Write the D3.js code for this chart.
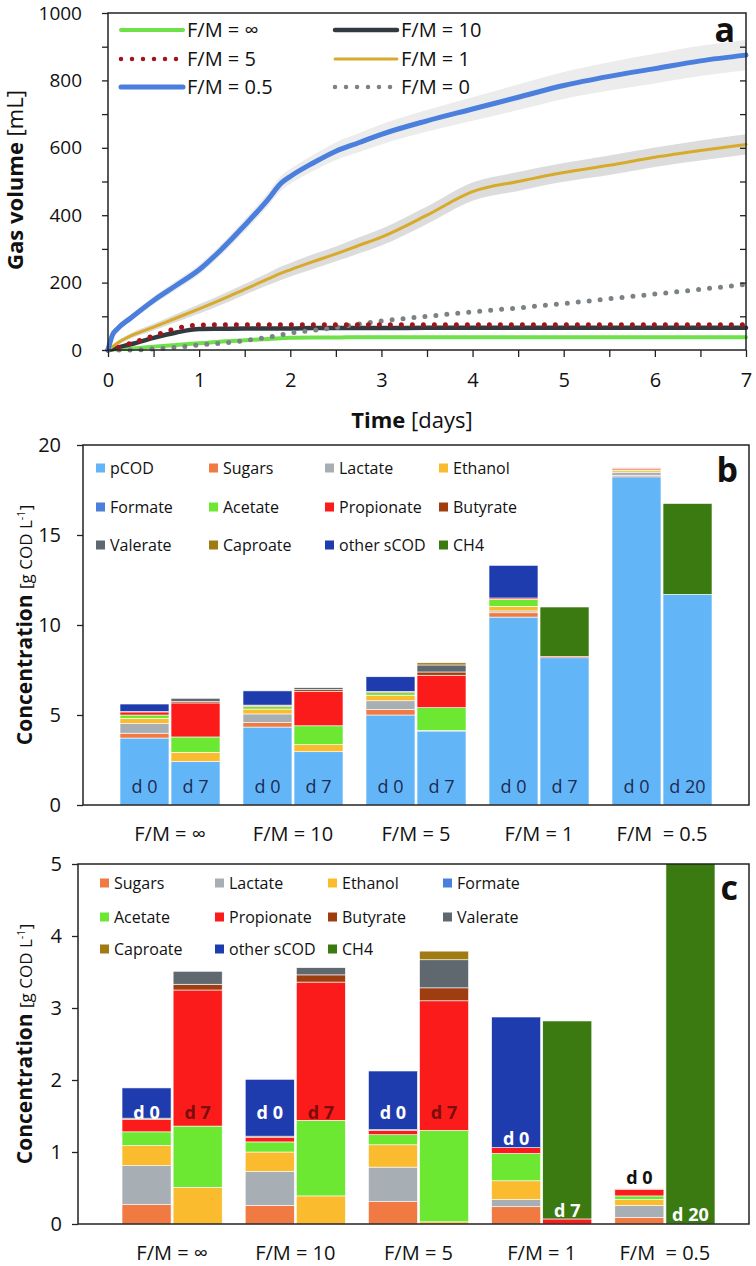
<!DOCTYPE html>
<html>
<head>
<meta charset="utf-8">
<script src="https://cdn.jsdelivr.net/npm/d3@7"></script>
<style>
  body { margin: 0; background: #fff; }
  text { font-family: "Open Sans", sans-serif; fill: #111; }
</style>
</head>
<body>
<div id="chart"></div>
<script>
// ---------- panel a data (gas volume, mL) ----------
const days = [0, 0.05, 0.1, 0.25, 0.5, 0.75, 1, 1.25, 1.5, 1.75, 1.9, 2, 2.25, 2.5, 2.75, 3, 3.5, 4, 4.5, 5, 5.5, 6, 6.5, 7];
const gasInf = [0, 1, 2, 4, 10, 15, 20, 25, 29, 33, 35, 36, 37, 37, 38, 38, 38, 38, 38, 38, 38, 38, 38, 38];
const gas10 = [0, 3, 7, 17, 36, 52, 62, 63, 64, 64, 64, 64, 65, 65, 65, 65, 66, 66, 66, 66, 66, 66, 66, 66];
const gas5 = [0, 3, 7, 20, 42, 64, 74, 75, 75, 75, 75, 75, 75, 75, 75, 75, 75, 75, 75, 75, 75, 75, 75, 75];
const gas1 = [0, 10, 20, 42, 68, 95, 122, 150, 180, 210, 228, 238, 262, 285, 310, 335, 400, 470, 500, 527, 548, 572, 592, 610];
const gas05 = [0, 45, 62, 95, 147, 192, 238, 300, 370, 445, 495, 515, 555, 590, 615, 640, 680, 715, 750, 785, 812, 835, 858, 875];
const gas0 = [0, 0, 0, 0, 3, 8, 15, 20, 28, 38, 45, 50, 58, 67, 77, 86, 100, 113, 125, 138, 152, 166, 180, 195];
// half width of the grey error bands
const spread05 = [0, 5, 8, 10, 12, 14, 15, 16, 18, 20, 22, 22, 24, 26, 28, 30, 32, 35, 38, 40, 42, 44, 45, 45];
const spread1 = [0, 4, 6, 8, 10, 12, 14, 15, 16, 18, 20, 20, 22, 22, 24, 25, 26, 27, 28, 28, 29, 29, 30, 30];

const gasSeries = [
  { name: "F/M = ∞", values: gasInf, color: "#6ee04a", width: 4, dotted: false },
  { name: "F/M = 10", values: gas10, color: "#333a3f", width: 4.5, dotted: false },
  { name: "F/M = 5", values: gas5, color: "#a3141a", width: 5, dotted: true },
  { name: "F/M = 1", values: gas1, color: "#d8aa2c", width: 3, dotted: false },
  { name: "F/M = 0.5", values: gas05, color: "#4a7fde", width: 5, dotted: false },
  { name: "F/M = 0", values: gas0, color: "#7b8286", width: 5, dotted: true }
];

// ---------- panels b and c data (g COD/L) ----------
const groups = ["F/M = ∞", "F/M = 10", "F/M = 5", "F/M = 1", "F/M  = 0.5"];
const dayLabels = ["d 0", "d 7", "d 0", "d 7", "d 0", "d 7", "d 0", "d 7", "d 0", "d 20"];
const components = ["pCOD", "Sugars", "Lactate", "Ethanol", "Formate", "Acetate", "Propionate", "Butyrate", "Valerate", "Caproate", "other sCOD", "CH4"];
const compColors = ["#62b6f8", "#f07a42", "#a7afb5", "#fbbb2e", "#4a80dc", "#6ce832", "#fb1b1b", "#9e3e10", "#5e686e", "#9f7b12", "#1f3caf", "#3b7a10"];

// one value per bar: ∞ d0, ∞ d7, 10 d0, 10 d7, 5 d0, 5 d7, 1 d0, 1 d7, 0.5 d0, 0.5 d20
const pCOD = [3.72, 2.42, 4.33, 2.96, 5.00, 4.11, 10.44, 8.18, 18.23, 11.70];
const sugars = [0.27, 0, 0.26, 0, 0.31, 0, 0.24, 0, 0.09, 0];
const lactate = [0.54, 0, 0.47, 0, 0.48, 0, 0.10, 0, 0.17, 0];
const ethanol = [0.28, 0.51, 0.27, 0.39, 0.31, 0.03, 0.26, 0, 0.08, 0];
const formate = [0, 0, 0, 0, 0, 0, 0, 0, 0, 0];
const acetate = [0.19, 0.85, 0.14, 1.05, 0.14, 1.27, 0.38, 0, 0.05, 0];
const propionate = [0.17, 1.89, 0.06, 1.92, 0.06, 1.80, 0.08, 0.07, 0.09, 0];
const butyrate = [0.02, 0.08, 0.02, 0.10, 0.01, 0.18, 0, 0, 0.01, 0];
const valerate = [0, 0.18, 0, 0.10, 0, 0.39, 0, 0, 0, 0];
const caproate = [0, 0, 0, 0, 0, 0.12, 0, 0, 0.01, 0];
const otherSCOD = [0.42, 0, 0.79, 0, 0.815, 0, 1.815, 0, 0, 0];
const ch4 = [0, 0, 0, 0, 0, 0, 0, 2.75, 0, 5.05];

// label heights in panel c (g COD/L) and their colours
const labelPosC = [1.55, 1.55, 1.55, 1.55, 1.55, 1.55, 1.19, 0.18, 0.64, 0.13];
const labelColC = ["#fff", "#7d0c0c", "#fff", "#7d0c0c", "#fff", "#7d0c0c", "#fff", "#fff", "#111", "#fff"];

const compValues = [pCOD, sugars, lactate, ethanol, formate, acetate, propionate, butyrate, valerate, caproate, otherSCOD, ch4];
const rows = dayLabels.map((lab, i) => {
  const r = { group: groups[Math.floor(i / 2)], day: i % 2, label: lab, idx: i };
  components.forEach((c, k) => r[c] = compValues[k][i]);
  return r;
});

const width = 756, height = 1266;
const svg = d3.select("#chart").append("svg")
  .attr("width", width).attr("height", height)
  .attr("viewBox", [0, 0, width, height]);

function styleAxis(g) {
  g.select(".domain").remove();
  g.selectAll(".tick line").attr("stroke", "#222").attr("stroke-width", 1.3);
  g.selectAll(".tick text").attr("font-size", 20).attr("fill", "#111");
}

// ================= Panel a =================
const xA = d3.scaleLinear().domain([0, 7]).range([108, 746]);
const yA = d3.scaleLinear().domain([0, 1000]).range([350, 13]);

const pa = svg.append("g");

// error bands
const band = spread => d3.area()
  .x((d, i) => xA(days[i]))
  .y0((d, i) => yA(d - spread[i]))
  .y1((d, i) => yA(d + spread[i]))
  .curve(d3.curveMonotoneX);
pa.append("path").attr("d", band(spread05)(gas05)).attr("fill", "#ececec");
pa.append("path").attr("d", band(spread1)(gas1)).attr("fill", "#dcdcdc");

const line = d3.line()
  .x((d, i) => xA(days[i]))
  .y(d => yA(d))
  .curve(d3.curveMonotoneX);

const drawOrder = [0, 1, 5, 2, 3, 4];
drawOrder.forEach(k => {
  const s = gasSeries[k];
  pa.append("path")
    .attr("d", line(s.values))
    .attr("fill", "none")
    .attr("stroke", s.color)
    .attr("stroke-width", s.width)
    .attr("stroke-linecap", "round")
    .attr("stroke-dasharray", s.dotted ? "0 11" : null);
});

// frame
pa.append("rect").attr("x", 108).attr("y", 13).attr("width", 746 - 108).attr("height", 337)
  .attr("fill", "none").attr("stroke", "#222").attr("stroke-width", 1.5);

pa.append("g").attr("transform", "translate(108,0)")
  .call(d3.axisLeft(yA).tickValues(d3.range(0, 1001, 100)).tickSize(6).tickPadding(20)
    .tickFormat(d => d % 200 === 0 ? d : ""))
  .call(styleAxis)
  .call(g => g.selectAll(".tick text").attr("font-size", 19));
pa.append("g").attr("transform", "translate(746,0)")
  .call(d3.axisLeft(yA).tickValues(d3.range(100, 1000, 100)).tickSize(6).tickFormat(""))
  .call(styleAxis);
pa.append("g").attr("transform", "translate(0,350)")
  .call(d3.axisBottom(xA).tickValues(d3.range(0, 7.01, 0.5)).tickSize(7).tickPadding(16)
    .tickFormat(d => Number.isInteger(d) ? d : ""))
  .call(styleAxis);

// axis titles
const tA = pa.append("text").attr("x", 412).attr("y", 428).attr("text-anchor", "middle").attr("font-size", 22);
tA.append("tspan").attr("font-weight", "bold").text("Time");
tA.append("tspan").text(" [days]");
const yTitleA = pa.append("text").attr("transform", "translate(23,180) rotate(-90)")
  .attr("text-anchor", "middle").attr("font-size", 22);
yTitleA.append("tspan").attr("font-weight", "bold").text("Gas volume ");
yTitleA.append("tspan").text("[mL]");

// legend a
const legA = pa.append("g");
gasSeries.forEach((s, i) => {
  const lx = [121, 335][i % 2], ly = [30, 59, 87][Math.floor(i / 2)];
  legA.append("line").attr("x1", lx).attr("x2", lx + 62).attr("y1", ly).attr("y2", ly)
    .attr("stroke", s.color).attr("stroke-width", s.dotted ? 4.5 : s.width)
    .attr("stroke-linecap", "round")
    .attr("stroke-dasharray", s.dotted ? "0 11" : null);
  legA.append("text").attr("x", lx + 66).attr("y", ly + 7).attr("font-size", 20).text(s.name);
});
pa.append("text").attr("x", 735).attr("y", 42).attr("text-anchor", "end")
  .attr("font-size", 34).attr("font-weight", "bold").text("a");

// ================= Panels b and c =================
function drawBars(opts) {
  const { keys, y, left, right, top, bottom, xRange, yTicks, clipId } = opts;
  const g = svg.append("g");
  const x0 = d3.scaleBand().domain(groups).range(xRange).paddingInner(0.187).paddingOuter(0.0935);
  const x1 = d3.scaleBand().domain([0, 1]).range([0, x0.bandwidth()]).paddingInner(0.04);
  const color = d3.scaleOrdinal().domain(components).range(compColors);

  svg.append("clipPath").attr("id", clipId)
    .append("rect").attr("x", left).attr("y", top).attr("width", right - left).attr("height", bottom - top);

  const stacked = d3.stack().keys(keys)(rows);
  g.append("g").attr("clip-path", `url(#${clipId})`)
    .selectAll("g").data(stacked).join("g")
    .attr("fill", d => color(d.key))
    .selectAll("rect").data(d => d.filter(p => p[1] - p[0] > 0)).join("rect")
    .attr("x", d => x0(d.data.group) + x1(d.data.day))
    .attr("width", x1.bandwidth())
    .attr("y", d => y(d[1]))
    .attr("height", d => y(d[0]) - y(d[1]))
    .attr("stroke", "#fff").attr("stroke-width", 0.6);

  g.append("rect").attr("x", left).attr("y", top).attr("width", right - left).attr("height", bottom - top)
    .attr("fill", "none").attr("stroke", "#222").attr("stroke-width", 1.5);

  g.append("g").attr("transform", `translate(${left},0)`)
    .call(d3.axisLeft(y).tickValues(yTicks).tickSize(6).tickPadding(opts.tickPad).tickFormat(d3.format("d")))
    .call(styleAxis);

  g.selectAll(".grp").data(groups).join("text")
    .attr("x", d => x0(d) + x0.bandwidth() / 2)
    .attr("y", opts.catY)
    .attr("text-anchor", "middle").attr("font-size", 20)
    .style("white-space", "pre")
    .text(d => d);

  const yt = g.append("text").attr("transform", `translate(32,${(top + bottom) / 2}) rotate(-90)`)
    .attr("text-anchor", "middle");
  yt.append("tspan").attr("font-weight", "bold").attr("font-size", 21).text("Concentration ");
  yt.append("tspan").attr("font-size", 17).text("[g COD L");
  yt.append("tspan").attr("font-size", 11).attr("dy", -7).text("-1");
  yt.append("tspan").attr("font-size", 17).attr("dy", 7).text("]");

  // legend
  keys.forEach((k, i) => {
    const lx = opts.legX[i % 4], ly = opts.legY[Math.floor(i / 4)];
    g.append("rect").attr("x", lx).attr("y", ly - 4.5).attr("width", 9).attr("height", 9).attr("fill", color(k));
    g.append("text").attr("x", lx + 14).attr("y", ly + 6).attr("font-size", 16).text(k);
  });

  g.append("text").attr("x", opts.letterX).attr("y", opts.letterY).attr("text-anchor", "end")
    .attr("font-size", 34).attr("font-weight", "bold").text(opts.letter);

  return { g, x0, x1 };
}

// panel b
const yB = d3.scaleLinear().domain([0, 20]).range([805, 445]);
const pb = drawBars({
  keys: components, y: yB, left: 83, right: 749, top: 445, bottom: 805,
  xRange: [108.5, 723.5], yTicks: [0, 5, 10, 15, 20], tickPad: 16, clipId: "clipB",
  catY: 841, legX: [96, 209, 325, 439], legY: [468, 507, 545],
  letter: "b", letterX: 738, letterY: 482
});
pb.g.selectAll(".dlab").data(rows).join("text")
  .attr("x", d => pb.x0(d.group) + pb.x1(d.day) + pb.x1.bandwidth() / 2)
  .attr("y", yB(1.0)).attr("dy", "0.35em")
  .attr("text-anchor", "middle").attr("font-size", 18)
  .style("fill", "#1e2a52")
  .text(d => d.label);

// panel c
const yC = d3.scaleLinear().domain([0, 5]).range([1224, 864]);
const pc = drawBars({
  keys: components.slice(1), y: yC, left: 78, right: 749, top: 864, bottom: 1224,
  xRange: [110.5, 726.5], yTicks: [0, 1, 2, 3, 4, 5], tickPad: 10, clipId: "clipC",
  catY: 1260, legX: [100, 215, 328, 443], legY: [883, 917, 949],
  letter: "c", letterX: 738, letterY: 900
});
pc.g.selectAll(".dlab").data(rows).join("text")
  .attr("x", d => pc.x0(d.group) + pc.x1(d.day) + pc.x1.bandwidth() / 2)
  .attr("y", d => yC(labelPosC[d.idx])).attr("dy", "0.35em")
  .attr("text-anchor", "middle").attr("font-size", 18).attr("font-weight", "bold")
  .style("fill", d => labelColC[d.idx])
  .text(d => d.label);
</script>
</body>
</html>
